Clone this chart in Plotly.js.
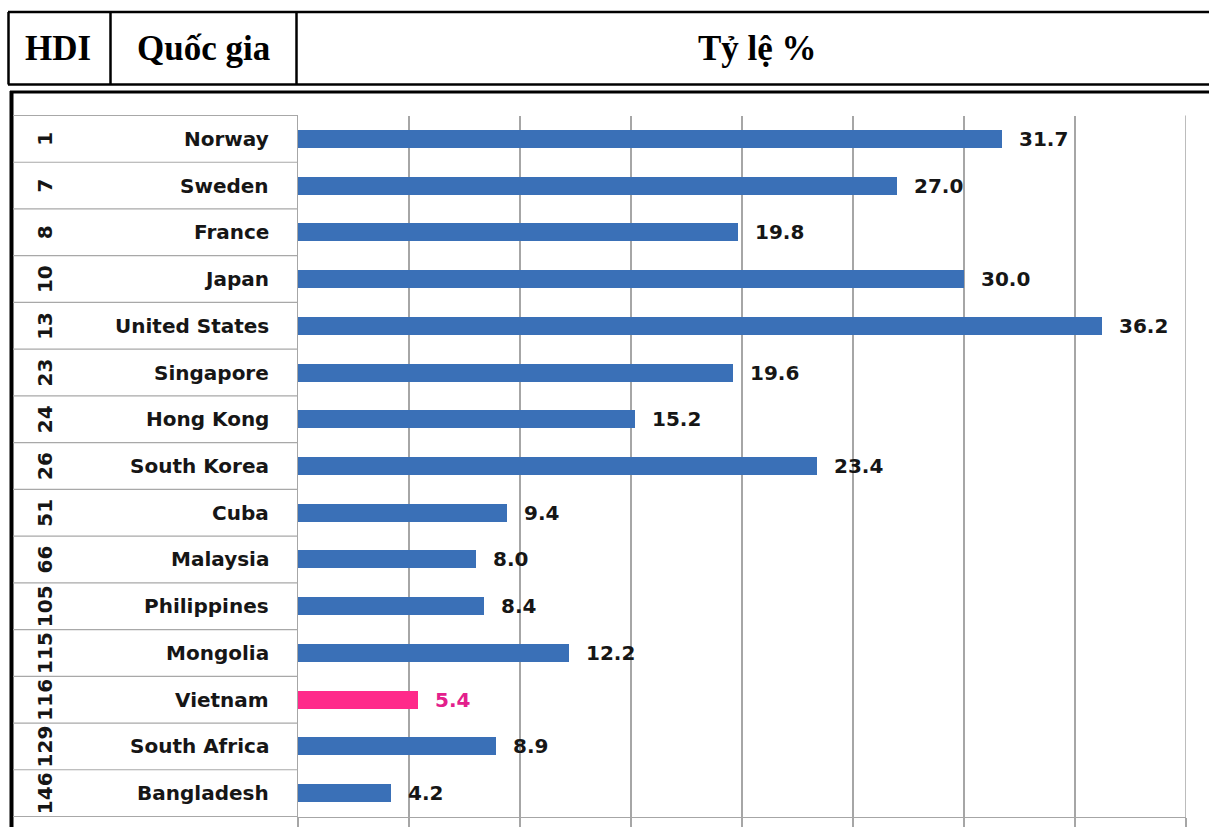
<!DOCTYPE html>
<html>
<head>
<meta charset="utf-8">
<script src="https://cdn.plot.ly/plotly-3.0.1.min.js"></script>
<style>
  html, body { margin: 0; padding: 0; background: #ffffff; }
  #chart { width: 1209px; height: 827px; }
</style>
</head>
<body>
<div id="chart"></div>
<script>
// Countries, their HDI rank and the share (%) shown by each bar
const countries = ["Norway", "Sweden", "France", "Japan", "United States", "Singapore",
  "Hong Kong", "South Korea", "Cuba", "Malaysia", "Philippines", "Mongolia",
  "Vietnam", "South Africa", "Bangladesh"];
const hdiRanks = ["1", "7", "8", "10", "13", "23", "24", "26", "51", "66", "105", "115",
  "116", "129", "146"];
const shares = [31.7, 27.0, 19.8, 30.0, 36.2, 19.6, 15.2, 23.4, 9.4, 8.0, 8.4, 12.2,
  5.4, 8.9, 4.2];
const highlighted = "Vietnam";
const headers = ["HDI", "Quốc gia", "Tỷ lệ %"];
const xTicks = [0, 5, 10, 15, 20, 25, 30, 35, 40];
const xMax = 40;

// Page geometry in pixels, converted to paper fractions
const W = 1209, H = 827;
const px = x => x / W;
const py = y => 1 - y / H;
const plotTop = 115.5, plotBottom = 816.5, plotLeft = 298, plotRight = 1186;
const rowH = (plotBottom - plotTop) / countries.length;

const blue = "#3a70b7", pink = "#ff2a8a";
const barColors = countries.map(c => c === highlighted ? pink : blue);
const labelColors = countries.map(c => c === highlighted ? "#e3208c" : "#161616");

const trace = {
  type: "bar",
  orientation: "h",
  y: countries,
  x: shares,
  width: 0.385,
  marker: { color: barColors, line: { width: 0 } },
  hoverinfo: "skip",
  showlegend: false
};

const annotations = [];
// value labels to the right of each bar
countries.forEach((c, i) => {
  annotations.push({
    xref: "x", yref: "y", x: shares[i], y: c,
    text: "<b>" + shares[i].toFixed(1) + "</b>",
    showarrow: false, xanchor: "left", yanchor: "middle", xshift: 15,
    font: { family: "DejaVu Sans", size: 20, color: labelColors[i] }
  });
  // country name column
  annotations.push({
    xref: "paper", yref: "y", x: px(271), y: c,
    text: "<b>" + c + "</b>",
    showarrow: false, xanchor: "right", yanchor: "middle",
    font: { family: "DejaVu Sans", size: 20, color: "#161616" }
  });
  // HDI rank column, rotated
  annotations.push({
    xref: "paper", yref: "y", x: px(45), y: c,
    text: "<b>" + hdiRanks[i] + "</b>",
    textangle: -90,
    showarrow: false, xanchor: "center", yanchor: "middle",
    font: { family: "DejaVu Sans", size: 20, color: "#161616" }
  });
});

// header row text
const headerCenters = [58, 203, 757];
headers.forEach((h, i) => {
  annotations.push({
    xref: "paper", yref: "paper", x: px(headerCenters[i]), y: py(49),
    text: "<b>" + h + "</b>",
    showarrow: false, xanchor: "center", yanchor: "middle",
    font: { family: "Liberation Serif", size: 35, color: "#000000" }
  });
});

const shapes = [];
const black = { color: "#000000", width: 2.5 };
// header box and its column dividers
shapes.push({ type: "line", xref: "paper", yref: "paper", x0: px(8), x1: px(1215), y0: py(12), y1: py(12), line: black });
shapes.push({ type: "line", xref: "paper", yref: "paper", x0: px(8), x1: px(1215), y0: py(84.5), y1: py(84.5), line: black });
[8.5, 110.5, 296.5].forEach(x => {
  shapes.push({ type: "line", xref: "paper", yref: "paper", x0: px(x), x1: px(x), y0: py(12), y1: py(84.5), line: black });
});
// chart frame: thick top and left edges
shapes.push({ type: "line", xref: "paper", yref: "paper", x0: px(10), x1: px(1215), y0: py(92), y1: py(92), line: { color: "#000000", width: 3 } });
shapes.push({ type: "line", xref: "paper", yref: "paper", x0: px(11.5), x1: px(11.5), y0: py(91), y1: py(840), line: { color: "#000000", width: 4 } });
// row separators of the label table
for (let i = 0; i <= countries.length; i++) {
  const y = plotTop + i * rowH;
  shapes.push({
    type: "line", xref: "paper", yref: "paper",
    x0: px(13), x1: px(plotLeft), y0: py(y), y1: py(y),
    line: { color: "#a8a8a8", width: 1.2 }
  });
}
// closing gridline at the right end of the value axis, with its tick
shapes.push({
  type: "line", xref: "x", yref: "paper",
  x0: xMax, x1: xMax, y0: py(plotTop), y1: py(830),
  line: { color: "#a6a6a6", width: 1.5 }
});

const layout = {
  width: W, height: H,
  margin: { l: 0, r: 0, t: 0, b: 0, pad: 0 },
  paper_bgcolor: "#ffffff",
  plot_bgcolor: "#ffffff",
  showlegend: false,
  bargap: 0,
  xaxis: {
    domain: [px(plotLeft), px(plotRight)],
    range: [0, xMax],
    tickvals: xTicks,
    showticklabels: false,
    showgrid: true, gridcolor: "#a6a6a6", gridwidth: 1.2,
    zeroline: false,
    showline: true, linecolor: "#a6a6a6", linewidth: 1.5,
    ticks: "outside", ticklen: 11, tickcolor: "#a6a6a6", tickwidth: 1.2,
    fixedrange: true
  },
  yaxis: {
    domain: [py(plotBottom), py(plotTop)],
    type: "category",
    categoryorder: "array", categoryarray: countries,
    autorange: "reversed",
    showticklabels: false,
    showgrid: false, zeroline: false,
    showline: true, linecolor: "#a6a6a6", linewidth: 1.2,
    ticks: "",
    fixedrange: true
  },
  shapes: shapes,
  annotations: annotations
};

Plotly.newPlot("chart", [trace], layout, { displayModeBar: false, staticPlot: true });
</script>
</body>
</html>
